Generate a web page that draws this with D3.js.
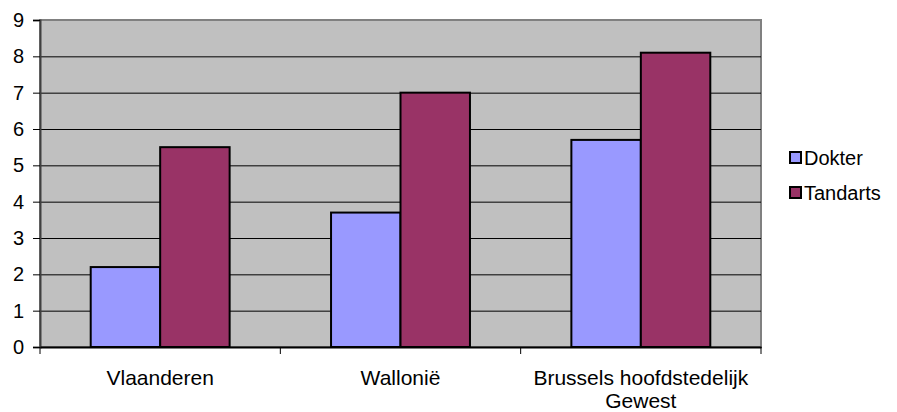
<!DOCTYPE html>
<html>
<head>
<meta charset="utf-8">
<script src="https://cdn.jsdelivr.net/npm/d3@7"></script>
<style>
  body { margin: 0; background: #fff; }
  text { font-family: "Liberation Sans", Arial, sans-serif; fill: #000; }
</style>
</head>
<body>
<div id="chart"></div>
<script>
const regions = ["Vlaanderen", "Wallonië", "Brussels hoofdstedelijk|Gewest"]
const series = ["Dokter", "Tandarts"]
const dokter = [2.2, 3.7, 5.7]
const tandarts = [5.5, 7.0, 8.1]
const yTicks = [0, 1, 2, 3, 4, 5, 6, 7, 8, 9]

const colors = ["#9999FF", "#993366"]

const w = 897, h = 412
const m = { left: 40, right: 136, top: 20, bottom: 65 }

var svg = d3.select("#chart").append("svg")
    .attr("width", w).attr("height", h)

var x = d3.scaleBand().domain(regions)
    .range([m.left, w - m.right])
var xs = d3.scaleBand().domain(series)
    .range([0, x.bandwidth()]).paddingOuter(0.73)
var y = d3.scaleLinear().domain([0, 9])
    .range([h - m.bottom, m.top])

// plot background
svg.append("rect")
    .attr("x", m.left).attr("y", m.top)
    .attr("width", w - m.right - m.left).attr("height", h - m.bottom - m.top)
    .attr("fill", "#C0C0C0")
    .attr("stroke", "#808080").attr("stroke-width", 2)

// gridlines
svg.selectAll(".grid").data(yTicks.slice(1, -1))
    .enter().append("line")
    .attr("x1", m.left).attr("x2", w - m.right)
    .attr("y1", d => y(d) + 0.5).attr("y2", d => y(d) + 0.5)
    .attr("stroke", "#000").attr("stroke-width", 1)

// bars
var data = regions.map((r, i) => ({ region: r, values: [dokter[i], tandarts[i]] }))
var groups = svg.selectAll(".group").data(data)
    .enter().append("g")
    .attr("transform", d => "translate(" + x(d.region) + ",0)")
groups.selectAll("rect").data(d => d.values.map((v, j) => ({ s: series[j], v: v, j: j })))
    .enter().append("rect")
    .attr("x", d => xs(d.s))
    .attr("y", d => y(d.v))
    .attr("width", xs.bandwidth())
    .attr("height", d => y(0) - y(d.v))
    .attr("fill", d => colors[d.j])
    .attr("stroke", "#000").attr("stroke-width", 2)

// y axis
var yAxis = svg.append("g")
    .attr("transform", "translate(" + m.left + ",0)")
    .call(d3.axisLeft(y).tickValues(yTicks).tickSize(7).tickPadding(9))
yAxis.select(".domain").attr("stroke", "#404040").attr("stroke-width", 2)
yAxis.selectAll(".tick line").attr("stroke", "#000")
yAxis.selectAll("text").style("font-size", "20px").attr("fill", "#000")

// x axis
var xAxis = svg.append("g")
    .attr("transform", "translate(0," + y(0) + ")")
    .call(d3.axisBottom(x).tickSize(0).tickFormat(""))
xAxis.select(".domain").attr("stroke", "#000").attr("stroke-width", 2)
var xEdges = regions.map(r => x(r)).concat([x.range()[1]])
xAxis.selectAll(".edge").data(xEdges)
    .enter().append("line")
    .attr("x1", d => d).attr("x2", d => d)
    .attr("y1", 0).attr("y2", 7)
    .attr("stroke", "#000")

var labels = svg.selectAll(".xlabel").data(regions)
    .enter().append("text")
    .attr("x", d => x(d) + x.bandwidth() / 2)
    .attr("y", y(0) + 38)
    .attr("text-anchor", "middle")
    .style("font-size", "21px")
labels.each(function(d) {
    var parts = d.split("|")
    var t = d3.select(this)
    parts.forEach(function(p, i) {
        t.append("tspan")
            .attr("x", x(d) + x.bandwidth() / 2)
            .attr("dy", i == 0 ? 0 : 23)
            .text(p)
    })
})

// legend
var legend = svg.selectAll(".legend").data(series)
    .enter().append("g")
    .attr("transform", (d, i) => "translate(790," + (152 + i * 35) + ")")
legend.append("rect")
    .attr("width", 11).attr("height", 11)
    .attr("fill", (d, i) => colors[i])
    .attr("stroke", "#000").attr("stroke-width", 2)
legend.append("text")
    .attr("x", 14).attr("y", 6)
    .attr("dy", "0.35em")
    .style("font-size", "20px")
    .text(d => d)
</script>
</body>
</html>
